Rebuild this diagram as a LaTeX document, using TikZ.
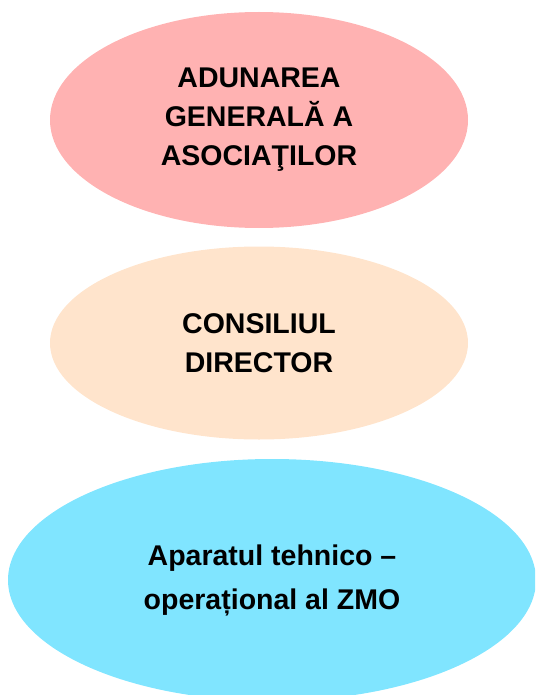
\documentclass[tikz,border=0pt]{standalone}
\usepackage{fontspec}
\setmainfont{Liberation Sans}
\usepackage{tikz}
\usetikzlibrary{shapes.geometric, positioning}

\definecolor{adunare}{RGB}{255,178,178}
\definecolor{consiliu}{RGB}{255,228,204}
\definecolor{aparat}{RGB}{128,229,255}

\tikzset{
  organ/.style={ellipse, inner sep=0pt, align=center, font=\fontsize{28.5}{39}\selectfont\bfseries}
}

\begin{document}
\begin{tikzpicture}[x=1pt, y=1pt]
\useasboundingbox (0,0) rectangle (535,-695);
\clip (0,0) rectangle (535,-695);

% General assembly
\node[organ, fill=adunare, minimum width=418pt, minimum height=216pt] (ag) at (259,-120) {ADUNAREA\\GENERALĂ A\\ASOCIAŢILOR};

% Board
\node[organ, fill=consiliu, minimum width=418pt, minimum height=193pt] (cd) at (259,-343) {CONSILIUL\\DIRECTOR};

% Technical staff
\node[organ, fill=aparat, minimum width=528pt, minimum height=242pt, font=\fontsize{28.5}{44}\selectfont\bfseries] (ato) at (272,-580) {Aparatul tehnico –\\operațional al ZMO};

\end{tikzpicture}
\end{document}
